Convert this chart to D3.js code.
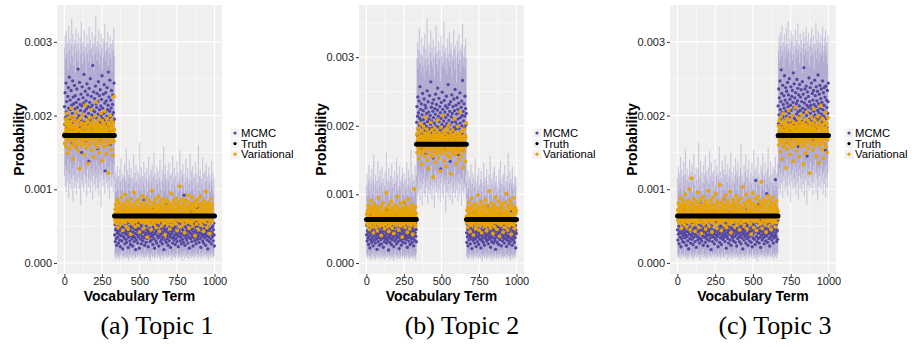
<!DOCTYPE html>
<html><head><meta charset="utf-8">
<script src="https://cdn.jsdelivr.net/npm/d3@7"></script>
<style>body{margin:0;background:#fff}svg{display:block}</style>
</head><body><svg id="c" width="914" height="347"></svg>
<script>
// values are stored in units of 1e-5 (probability)
const UNIT = 1e-5;
const pointTerms = d3.range(1, 1001, 2);   // vocabulary terms shown as points
const ciTerms = d3.range(1, 1001, 4);      // vocabulary terms shown with interval lines
const xTicks = [0, 250, 500, 750, 1000];
const xMinor = [125, 375, 625, 875];
const yTicks = [0, 0.001, 0.002, 0.003];
const yMinor = [0.0005, 0.0015, 0.0025, 0.0035];
const seriesNames = ["MCMC", "Truth", "Variational"];
const captions = ["(a) Topic 1", "(b) Topic 2", "(c) Topic 3"];
const truthHigh = 0.00173, truthLow = 0.000636;
const topic1Truth = [[1, 333, truthHigh], [334, 1000, truthLow]];
const topic2Truth = [[1, 333, truthLow], [334, 666, truthHigh], [667, 1000, truthLow]];
const topic3Truth = [[1, 666, truthLow], [667, 1000, truthHigh]];

const topic1Mcmc = [
212,188,231,197,176,244,205,219,183,201,167,226,193,238,210,179,252,199,186,221,
208,173,234,195,214,162,203,247,189,225,181,216,198,241,170,209,227,192,157,218,
204,236,185,211,196,263,178,222,200,190,245,171,215,207,184,229,194,150,213,239,
187,202,224,175,217,256,191,206,180,233,199,164,220,209,186,243,196,228,172,212,
203,138,237,189,218,195,250,182,210,226,177,201,214,192,268,207,183,232,198,169,
223,205,188,240,174,216,197,211,230,185,155,219,202,246,193,178,227,208,190,235,
168,213,200,222,181,254,196,210,187,229,203,176,242,194,217,125,205,231,189,220,
199,171,238,208,184,214,259,192,225,179,206,248,197,161,221,210,186,234,201,173,
215,228,191,204,180,244,195,
38,52,29,45,61,33,47,24,56,41,35,68,43,27,50,39,58,31,46,22,
54,37,44,63,30,49,41,19,57,36,48,72,34,42,26,53,40,60,32,45,
28,51,38,66,43,21,55,35,47,39,59,30,44,25,50,37,64,41,33,48,
23,56,42,36,71,29,46,52,34,40,18,58,45,31,49,38,62,27,43,54,
35,47,20,57,39,44,67,32,51,26,41,60,36,48,30,55,42,85,34,46,
24,53,38,63,40,28,50,45,33,69,37,43,22,58,41,35,52,47,29,61,
39,44,31,56,36,74,42,25,49,38,54,33,46,20,59,40,65,30,48,43,
27,52,37,45,62,34,50,23,57,41,36,70,44,29,53,39,47,32,60,26,
42,55,35,48,18,64,38,45,31,51,43,79,28,46,37,58,33,41,24,54,
40,49,30,66,36,44,21,57,39,47,34,62,42,27,52,45,35,72,31,48,
38,56,25,43,50,33,61,40,29,46,37,54,22,59,44,36,68,41,30,49,
35,53,26,47,39,63,32,45,57,28,42,92,37,50,24,55,40,34,48,60,
31,44,38,66,27,52,43,35,58,20,46,41,51,33,70,39,45,29,56,36,
47,23,62,42,34,53,38,49,30,64,44,26,57,40,35,50,32,75,43,37,
54,28,46,41,60,33,48,21,55,39,45,36,67,30,52,42,27,58,38,47,
34,63,40,24,51,44,37,56,31,49,19,61,43,35,53,29,46,72,39,42,
33,57,26,48,41,65,36,50,30,45,54,38,23];

const topic1Var = [
176,162,189,171,195,158,181,168,203,174,149,186,179,165,192,172,184,155,198,177,
167,188,173,210,160,183,170,194,178,141,187,164,175,199,169,182,157,191,176,166,
205,173,185,161,179,193,152,181,171,188,174,128,196,168,180,163,190,177,159,185,
172,201,166,183,175,147,189,170,178,214,162,186,173,156,194,180,167,184,135,176,
191,169,182,160,197,174,187,163,179,208,171,153,185,176,166,192,181,144,173,188,
168,199,177,161,183,170,218,186,174,157,190,179,165,182,172,195,150,178,187,169,
184,162,203,175,180,139,193,171,186,166,177,158,189,173,206,181,164,185,176,148,
196,170,183,160,179,191,174,122,188,167,182,175,200,163,186,172,154,194,178,169,
185,146,190,177,165,226,181,
66,58,73,61,79,54,68,63,85,59,70,48,75,64,57,82,67,60,72,52,
77,65,62,89,56,71,63,44,80,69,58,74,61,66,93,55,78,64,50,70,
62,84,59,67,73,46,76,63,57,81,68,60,71,39,65,87,58,74,62,69,
53,79,66,61,96,56,72,64,49,77,60,68,83,57,70,63,51,75,65,59,
86,62,73,42,67,80,58,71,64,55,78,61,69,91,56,74,63,47,82,66,
60,72,54,76,65,58,88,62,70,35,79,64,57,73,67,52,84,61,68,59,
75,45,71,63,98,56,77,66,60,81,64,53,72,69,58,86,62,74,48,67,
79,57,65,70,61,90,55,73,64,43,78,68,59,83,63,71,50,76,66,58,
87,62,69,54,74,60,80,65,38,72,63,57,85,67,61,77,52,70,64,59,
82,56,75,68,46,79,62,66,94,58,71,63,51,76,65,60,84,57,73,69,
55,80,64,61,88,53,72,67,44,78,62,70,59,83,66,58,75,104,63,68,
49,77,61,65,86,56,74,69,52,81,60,67,73,41,79,64,58,85,62,71,
55,76,66,59,92,57,70,63,47,82,68,61,74,54,78,65,60,89,56,72,
64,50,80,67,58,75,62,69,37,83,61,66,77,53,71,63,86,59,68,45,
79,64,57,73,60,90,55,74,66,51,81,62,70,58,76,65,43,84,61,68,
56,78,63,72,97,59,69,48,80,64,60,75,53,82,67,62,71,40,77,65,
58,87,61,73,55,79,66];

const topic1CiLow = [
118,104,132,96,125,110,141,88,121,107,136,99,115,128,84,119,133,102,112,145,
93,126,109,138,116,100,123,79,130,113,105,140,97,120,131,108,117,90,127,134,
103,114,143,95,122,111,129,86,118,137,106,124,98,115,139,101,121,92,133,110,
126,76,119,135,104,113,128,94,142,117,108,123,99,131,112,87,125,138,103,116,
120,97,134,109,
8,12,5,10,15,7,9,4,13,11,6,18,9,14,5,10,8,21,7,12,
6,9,16,4,11,8,13,7,19,10,5,12,9,15,6,8,24,11,7,13,
10,4,17,9,12,6,14,8,11,5,20,9,7,13,10,16,6,12,8,3,
15,11,9,7,18,10,5,13,8,22,12,6,9,14,7,11,4,16,10,8,
12,5,19,9,13,7,10,15,6,11,8,25,9,12,4,14,10,7,17,8,
11,6,13,9,20,5,12,10,7,15,8,11,3,16,9,13,6,18,10,8,
12,7,14,5,11,21,9,6,13,10,8,15,4,12,9,17,7,11,14,6,
10,19,8,12,5,13,9,16,7,11,23,10,6,14,8,12,4,15,9,11,
7,18,10,13,6,9];

const topic1CiHigh = [
292,308,276,315,284,299,262,321,288,304,271,296,331,280,310,267,294,302,258,318,
286,298,274,312,290,264,306,283,327,295,270,300,287,316,278,293,255,309,285,297,
272,320,289,303,266,291,313,281,298,260,307,284,335,294,275,301,288,317,269,296,
282,311,291,263,305,279,299,324,286,273,300,290,314,268,293,284,308,277,297,261,
302,289,319,281,
108,124,96,115,132,101,118,89,127,110,142,99,113,121,86,117,135,104,112,155,
94,126,107,119,139,98,114,129,91,116,103,147,109,122,97,133,111,88,125,106,
120,163,100,115,130,93,118,108,137,102,123,84,114,128,96,111,144,105,119,92,
126,110,134,99,117,150,103,121,90,113,131,107,124,95,116,140,101,112,87,127,
109,158,98,120,133,104,115,93,125,111,136,100,118,82,122,106,145,97,114,129,
103,119,91,138,108,123,96,112,152,102,126,89,117,134,105,121,94,110,141,99,
116,128,86,113,107,148,97,124,111,132,101,119,92,115,137,104,122,88,109,160,
98,118,127,95,114,106,143,100,121,90,125,111,135,103,117,85,130,108,120,96,
112,139,102,123,93,116];

const topic2Mcmc = [
41,55,32,47,63,36,44,27,58,39,50,22,46,69,34,42,53,30,48,61,
37,45,25,56,40,33,66,43,51,29,47,38,59,35,44,20,54,41,72,31,
49,37,57,26,43,62,39,46,34,52,28,45,64,36,50,42,23,55,38,47,
31,60,40,35,53,44,77,29,48,37,56,33,42,19,51,46,39,65,30,45,
36,58,41,27,49,54,34,43,62,38,47,24,57,40,32,52,45,70,35,43,
28,55,39,48,60,31,46,37,53,21,44,41,67,33,50,38,26,56,42,47,
35,63,30,45,52,40,88,36,49,29,54,43,34,59,39,46,23,51,44,37,
64,32,48,41,57,27,45,38,53,35,71,42,30,50,46,36,61,25,47,40,
55,33,44,58,39,49,31,
205,228,186,214,242,195,219,173,236,201,211,257,190,224,182,208,232,167,216,198,
247,187,222,209,176,239,203,193,230,213,160,226,199,218,184,251,206,192,235,171,
220,210,196,244,181,215,202,264,189,227,207,178,233,197,221,153,212,238,194,204,
225,185,217,246,200,169,231,209,191,223,255,183,214,198,240,206,175,228,193,219,
137,211,234,188,202,249,196,224,180,215,207,166,237,199,220,190,229,212,185,243,
203,172,226,197,216,260,189,208,231,179,221,201,148,235,194,213,186,245,205,218,
192,228,174,210,239,198,222,183,253,206,195,230,168,217,202,241,187,224,210,158,
233,196,219,181,248,204,212,191,227,176,236,200,215,266,188,221,207,163,232,197,
214,243,185,225,201,218,
44,30,57,38,49,25,53,41,66,34,46,39,59,28,51,43,36,62,21,48,
40,55,33,45,74,37,50,29,42,58,35,47,24,54,39,44,65,31,52,38,
46,27,57,41,35,61,43,49,22,56,40,33,68,45,37,53,30,48,42,59,
26,50,44,36,63,39,47,32,55,41,83,34,46,28,52,43,38,60,35,49,
23,57,40,45,31,54,37,66,42,48,29,51,44,36,58,33,47,20,55,41,
39,63,30,46,53,37,43,27,59,40,49,34,71,45,38,52,25,56,42,47,
32,61,39,44,36,54,29,50,43,67,35,48,41,24,57,38,46,33,62,40,
52,28,45,37,56,31,49,76,42,35,53,44,26,58,39,47,34,64,41,30,
51,45,37,55,22,48,43];

const topic2Var = [
63,71,57,76,60,68,84,55,72,65,49,79,62,67,91,58,74,64,53,81,
66,60,70,44,77,63,86,57,69,61,75,52,82,65,59,73,47,78,64,68,
95,56,71,62,80,54,67,60,74,40,83,66,58,72,63,88,55,69,61,76,
50,79,65,57,73,67,102,59,70,62,81,53,75,64,46,85,60,68,72,56,
78,63,66,90,58,71,51,80,65,61,74,43,77,69,57,84,62,67,73,55,
82,64,59,97,68,60,75,48,79,66,63,71,54,87,61,70,58,76,65,38,
81,62,69,74,56,89,64,60,72,52,78,67,59,83,63,70,45,76,66,61,
93,57,73,64,50,80,68,62,75,55,85,60,71,65,42,79,63,69,108,58,
74,61,67,82,54,72,66,
174,188,161,179,196,168,183,152,176,191,165,181,171,203,159,186,175,144,193,170,
182,163,178,199,167,185,173,156,189,177,212,162,180,171,195,150,184,169,176,138,
190,174,166,187,158,181,172,205,164,179,170,194,155,183,176,125,188,168,180,161,
197,173,186,147,178,169,192,160,182,175,208,166,185,171,153,190,177,163,184,134,
172,198,167,180,159,187,174,215,165,179,170,193,149,183,176,162,189,173,141,181,
168,196,175,157,186,171,164,201,178,169,184,154,191,174,130,180,166,187,172,160,
194,177,163,182,170,210,167,185,158,179,173,145,190,176,165,183,171,199,161,186,
174,151,188,168,180,220,164,178,172,156,192,175,166,184,139,181,170,195,162,177,
187,169,148,183,173,204,
68,59,77,64,52,81,62,70,88,57,73,65,46,79,61,67,94,55,72,63,
84,60,69,41,76,66,58,80,64,71,50,86,62,68,75,54,78,65,99,59,
72,63,48,82,67,60,74,56,89,64,70,44,77,61,66,83,58,73,62,53,
79,69,65,92,57,71,60,47,85,63,68,76,55,80,66,61,105,58,72,64,
51,78,62,70,87,56,74,65,43,81,60,67,75,53,84,63,69,96,59,71,
64,49,79,66,61,73,57,90,62,68,39,77,65,60,82,55,72,63,86,58,
70,67,45,80,61,74,64,52,88,59,69,76,62,101,57,71,65,48,83,60,
73,66,54,78,63,91,58,68,61,42,85,64,70,56,79,62,67,95,55,74,
65,50,81,60,72,63,77];

const topic2CiLow = [
9,13,6,11,17,7,10,4,14,8,12,20,6,10,15,5,9,13,7,23,
11,8,16,5,12,9,18,6,10,14,4,11,8,21,7,13,9,15,5,12,
10,6,17,8,11,3,14,9,19,7,12,10,5,16,8,13,6,11,22,9,
7,14,10,4,12,8,18,6,11,15,9,5,13,7,20,10,8,12,6,16,
9,11,4,14,
112,98,127,105,136,91,119,108,131,84,115,124,101,139,96,118,110,128,87,122,
106,133,99,114,142,93,120,109,126,80,117,135,103,111,129,95,123,107,138,89,
116,125,100,132,94,119,113,127,74,121,104,137,97,115,130,92,118,109,134,86,
124,102,112,140,96,120,107,128,90,117,131,99,114,125,83,122,105,136,98,116,
110,129,94,
10,7,14,5,12,9,18,6,11,15,8,4,13,10,21,7,12,9,16,5,
11,8,19,6,13,10,3,14,9,12,7,17,10,5,15,8,11,24,6,13,
9,12,4,16,10,7,14,8,20,11,6,13,9,5,15,12,8,18,7,10,
14,6,11,9,22,8,13,5,12,10,16,7,9,4,14,11,8,19,6,12,
10,15,7];

const topic2CiHigh = [
112,131,97,119,143,104,125,90,116,137,101,122,158,95,114,128,87,120,108,149,
99,126,111,135,93,117,140,103,123,85,113,132,106,161,98,121,109,138,92,118,
127,102,145,110,124,88,115,134,100,119,153,105,129,94,112,141,107,120,89,126,
139,101,116,131,96,122,108,147,99,114,136,91,125,110,165,103,118,130,95,121,
106,142,112,127,
298,321,284,310,342,291,305,276,329,302,287,316,268,334,296,312,281,357,300,289,
319,273,307,338,294,313,285,326,299,270,315,303,346,290,308,279,323,297,311,265,
331,301,288,318,292,352,306,283,314,298,275,327,304,293,336,286,309,320,271,302,
295,340,312,282,317,300,262,324,307,290,333,296,311,278,319,305,348,288,301,315,
284,328,299,
118,102,135,109,126,93,121,144,105,115,131,97,124,110,152,100,119,88,128,107,
139,113,96,122,134,104,117,91,146,111,125,99,120,137,106,114,86,129,108,156,
101,123,116,94,132,110,141,98,118,127,103,112,89,136,107,121,149,100,115,125,
95,130,111,143,104,119,92,127,109,160,102,117,134,97,122,113,140,106,116,90,
128,111,124];

const topic3Mcmc = [
45,31,58,39,50,26,54,42,67,35,47,22,56,40,33,62,44,29,51,37,
60,28,46,41,73,34,49,38,55,24,43,52,36,64,30,48,42,19,57,39,
45,33,61,27,50,44,37,69,32,53,40,25,58,46,35,49,41,63,29,47,
38,54,21,43,59,36,48,31,66,42,34,52,45,27,57,39,80,33,50,44,
30,55,41,37,62,24,47,43,53,35,46,68,28,51,40,36,59,32,44,48,
23,56,38,45,65,30,49,42,34,54,39,18,58,46,37,51,29,71,43,35,
52,40,26,57,44,33,63,38,47,31,55,42,36,60,22,48,45,39,53,28,
67,41,34,50,46,25,56,37,43,62,32,49,40,87,35,44,52,29,58,38,
47,20,54,41,36,64,33,45,50,27,57,43,39,70,31,48,42,24,55,37,
46,61,34,40,53,30,49,44,76,36,51,28,56,42,38,59,23,47,45,33,
52,40,66,35,43,29,57,48,37,62,26,50,41,34,54,46,19,58,39,44,
31,63,42,36,49,55,27,45,38,72,33,51,40,24,56,47,35,60,30,43,
53,41,37,66,28,48,44,22,57,39,34,52,46,64,32,50,42,25,55,112,
45,36,61,29,47,41,79,33,53,40,27,58,44,35,49,21,56,43,38,63,
31,46,50,34,68,39,42,26,54,47,36,59,30,45,41,94,37,52,28,48,
44,62,33,40,55,23,50,43,35,57,39,46,31,65,42,37,53,27,49,45,
34,60,38,47,113,41,36,52,29,56,44,32,58,
213,189,236,201,224,178,247,208,195,219,262,186,230,204,171,241,198,215,183,227,
210,254,193,221,176,238,206,199,233,164,217,245,190,212,228,185,203,250,197,222,
180,214,239,207,191,226,168,234,200,218,258,187,211,243,196,224,174,209,231,193,
216,202,249,182,220,237,205,158,228,199,213,242,188,207,225,179,235,201,219,192,
246,210,183,229,204,265,196,217,172,236,208,223,190,240,200,214,145,232,205,188,
226,211,251,195,219,177,238,203,214,192,244,209,185,230,198,221,166,234,206,215,
189,248,201,227,182,212,239,196,220,175,233,207,255,193,216,204,229,186,241,210,
197,223,169,236,202,218,191,247,208,180,231,199,214,238,187,225,205,153,240,196,
221,211,184,234,203,219,244];

const topic3Var = [
65,72,58,81,63,69,54,77,61,88,66,59,74,47,79,64,70,56,85,62,
68,75,52,80,60,67,93,57,73,64,49,78,66,61,84,55,71,63,100,58,
76,65,45,82,62,69,115,57,74,64,51,79,67,60,87,56,72,63,43,77,
66,59,83,54,71,65,96,58,75,62,48,80,68,61,73,55,86,64,69,40,
78,63,57,74,66,90,60,70,53,81,65,62,76,46,84,59,68,72,56,79,
64,98,61,67,50,77,63,71,58,85,66,55,74,62,42,80,69,60,89,57,
73,65,52,78,63,68,94,59,71,64,47,83,61,67,75,54,81,66,58,106,
62,70,55,76,65,44,82,60,69,73,57,87,64,61,78,51,74,67,59,92,
63,71,48,80,65,58,84,62,69,53,77,66,60,97,56,72,64,41,79,63,
68,75,55,86,61,70,59,82,65,49,76,62,67,91,57,73,64,52,80,66,
60,85,58,71,63,45,78,69,61,74,54,88,65,59,72,67,103,56,75,62,
50,81,64,68,57,77,63,93,60,70,46,83,66,58,73,65,55,86,61,69,
79,53,74,64,39,82,62,67,95,58,71,65,48,80,63,60,76,56,87,64,
69,44,78,66,59,72,61,90,57,74,65,52,83,62,68,77,55,110,63,70,
47,81,66,60,75,58,86,64,69,53,79,62,67,42,84,65,59,73,56,91,
63,71,50,78,66,61,85,57,74,64,45,82,60,68,76,54,89,65,62,72,
58,80,63,49,77,67,60,84,55,73,64,61,70,
171,186,160,179,193,166,182,151,175,198,164,184,172,141,189,177,168,203,158,180,
173,192,162,185,176,129,190,169,181,155,196,174,165,187,178,207,161,183,170,147,
194,176,163,188,172,157,200,180,167,185,138,178,191,169,183,160,174,211,166,186,
175,152,189,171,180,162,197,177,168,184,144,192,173,165,187,179,158,201,170,182,
163,190,176,134,185,172,167,195,160,181,174,149,188,178,169,205,164,183,171,156,
193,177,166,186,173,122,190,168,180,161,198,175,170,184,153,189,176,164,209,172,
181,159,194,174,167,187,145,179,171,185,163,199,177,168,183,136,191,173,160,186,
175,213,166,182,170,154,196,178,165,188,142,180,174,162,192,176,169,204,158,184,
171,189,150,179,167,197,173];

const topic3CiLow = [
9,6,13,8,11,17,5,10,14,7,12,9,21,6,11,8,15,4,10,13,
7,18,9,12,6,11,5,16,8,10,14,7,23,9,12,6,13,10,4,15,
8,11,19,7,12,9,6,14,10,5,17,8,11,13,7,9,20,6,12,10,
15,8,3,11,14,7,9,18,6,12,10,5,13,8,16,11,7,9,22,6,
12,10,14,4,11,8,17,7,13,9,5,15,10,12,6,19,8,11,14,7,
9,24,6,12,10,4,13,8,16,11,7,9,15,5,12,10,20,6,13,8,
11,14,7,9,17,5,12,10,6,15,8,11,3,13,9,18,7,12,10,14,
6,11,21,8,9,13,5,16,10,7,12,9,15,6,11,19,8,10,4,14,
12,7,9,17,6,11,13,
116,101,129,94,122,108,137,88,119,112,132,97,125,104,141,91,117,128,106,134,
82,120,110,126,99,139,114,103,131,93,123,109,136,86,118,127,100,115,143,96,
121,107,130,90,124,113,135,79,119,105,128,98,117,138,102,126,111,92,133,108,
120,140,95,123,114,85,130,104,118,127,99,136,110,121,93,125,107,131,89,116,
134,102,122];

const topic3CiHigh = [
115,131,98,122,108,144,101,126,93,117,137,104,120,155,96,113,128,89,119,109,
140,102,124,111,134,95,118,148,106,121,92,130,112,99,127,163,103,116,138,97,
123,110,87,133,107,119,145,100,125,114,94,129,108,152,101,117,136,91,122,111,
126,98,141,105,118,132,96,120,113,158,103,124,88,115,139,107,127,99,119,146,
102,121,110,134,93,117,128,105,150,98,123,112,86,131,108,119,142,100,125,114,
137,95,118,106,129,161,103,120,111,90,133,109,124,147,97,116,127,104,139,112,
92,122,108,135,101,118,154,99,126,113,130,94,117,143,106,121,110,89,132,104,
125,149,100,119,114,136,96,123,107,128,157,102,117,111,138,93,120,109,131,105,
126,98,144,115,121,103,134,
289,306,274,313,295,281,322,287,300,266,310,293,278,318,297,284,328,291,269,304,
286,315,299,275,309,283,294,261,317,290,302,279,325,288,296,271,311,285,303,292,
257,314,298,282,307,290,320,276,301,287,312,268,295,305,280,319,293,284,308,263,
297,289,326,277,303,291,314,272,300,286,310,281,296,321,288,274,306,294,316,283,
299,270,309];

const topics = [
  {mcmc: topic1Mcmc, vari: topic1Var, lo: topic1CiLow, hi: topic1CiHigh, truth: topic1Truth},
  {mcmc: topic2Mcmc, vari: topic2Var, lo: topic2CiLow, hi: topic2CiHigh, truth: topic2Truth},
  {mcmc: topic3Mcmc, vari: topic3Var, lo: topic3CiLow, hi: topic3CiHigh, truth: topic3Truth}
];

// layout (pixel positions, styles)
const layout = [
  {left: 57, right: 222, top: 5, bottom: 274, yDom: [-0.00015, 0.0035], cap: 157},
  {left: 359, right: 524, top: 5, bottom: 274, yDom: [-0.00016, 0.00376], cap: 462},
  {left: 670, right: 836, top: 5, bottom: 274, yDom: [-0.00015, 0.0035], cap: 775}
];
const COL_MCMC = "#55479d", COL_VAR = "#eaa400", COL_TRUTH = "#000000";
const legendColors = [COL_MCMC, COL_TRUTH, COL_VAR];
const SANS = "'Liberation Sans', Arial, Helvetica, sans-serif";

const svg = d3.select("#c");
svg.append("rect").attr("width", 914).attr("height", 347).attr("fill", "#fff");

topics.forEach((tp, k) => {
  const L = layout[k];
  const g = svg.append("g");
  const x = d3.scaleLinear().domain([-49, 1050]).range([L.left, L.right]);
  const y = d3.scaleLinear().domain(L.yDom).range([L.bottom, L.top]);
  const clipId = "clip" + k;
  svg.append("defs").append("clipPath").attr("id", clipId)
    .append("rect").attr("x", L.left).attr("y", L.top)
    .attr("width", L.right - L.left).attr("height", L.bottom - L.top);

  g.append("rect").attr("x", L.left).attr("y", L.top)
    .attr("width", L.right - L.left).attr("height", L.bottom - L.top)
    .attr("fill", "#f0efee");

  const pg = g.append("g").attr("clip-path", `url(#${clipId})`);
  // grid
  pg.selectAll(".xm").data(xMinor).join("line")
    .attr("x1", d => x(d)).attr("x2", d => x(d)).attr("y1", L.top).attr("y2", L.bottom)
    .attr("stroke", "#fff").attr("stroke-width", 0.6);
  pg.selectAll(".ym").data(yMinor.filter(v => v < L.yDom[1])).join("line")
    .attr("y1", d => y(d)).attr("y2", d => y(d)).attr("x1", L.left).attr("x2", L.right)
    .attr("stroke", "#fff").attr("stroke-width", 0.6);
  pg.selectAll(".xM").data(xTicks).join("line")
    .attr("x1", d => x(d)).attr("x2", d => x(d)).attr("y1", L.top).attr("y2", L.bottom)
    .attr("stroke", "#fff").attr("stroke-width", 1.2);
  pg.selectAll(".yM").data(yTicks).join("line")
    .attr("y1", d => y(d)).attr("y2", d => y(d)).attr("x1", L.left).attr("x2", L.right)
    .attr("stroke", "#fff").attr("stroke-width", 1.2);

  // credible interval lines
  pg.append("g").selectAll("line").data(ciTerms).join("line")
    .attr("x1", d => x(d)).attr("x2", d => x(d))
    .attr("y1", (d, i) => y(tp.lo[i] * UNIT)).attr("y2", (d, i) => y(tp.hi[i] * UNIT))
    .attr("stroke", "#6e62b4").attr("stroke-opacity", 0.28).attr("stroke-width", 1.2);

  // MCMC points
  pg.append("g").selectAll("circle").data(pointTerms).join("circle")
    .attr("cx", d => x(d)).attr("cy", (d, i) => y(tp.mcmc[i] * UNIT))
    .attr("r", 1.65).attr("fill", COL_MCMC);
  // Variational points
  pg.append("g").selectAll("circle").data(pointTerms).join("circle")
    .attr("cx", d => x(d)).attr("cy", (d, i) => y(tp.vari[i] * UNIT))
    .attr("r", 1.95).attr("fill", COL_VAR);
  // Truth
  pg.append("g").selectAll("line").data(tp.truth).join("line")
    .attr("x1", d => x(d[0])).attr("x2", d => x(d[1]))
    .attr("y1", d => y(d[2])).attr("y2", d => y(d[2]))
    .attr("stroke", COL_TRUTH).attr("stroke-width", 5).attr("stroke-linecap", "round");

  // axes
  const ay = g.append("g").attr("transform", `translate(${L.left},0)`)
    .call(d3.axisLeft(y).tickValues(yTicks).tickFormat(d3.format(".3f")).tickSize(3).tickPadding(2));
  const ax = g.append("g").attr("transform", `translate(0,${L.bottom})`)
    .call(d3.axisBottom(x).tickValues(xTicks).tickFormat(d3.format("d")).tickSize(3).tickPadding(0.6));
  [ax, ay].forEach(a => {
    a.select(".domain").remove();
    a.selectAll(".tick line").attr("stroke", "#333");
    a.selectAll(".tick text").attr("fill", "#222").style("font-family", SANS).style("font-size", "11px");
  });

  g.append("text").attr("transform", `translate(${L.left - 38},${(L.top + L.bottom) / 2}) rotate(-90)`)
    .attr("text-anchor", "middle").attr("dy", "0.35em")
    .style("font-family", SANS).style("font-weight", "bold").style("font-size", "14px")
    .attr("fill", "#000").text("Probability");
  g.append("text").attr("x", (L.left + L.right) / 2).attr("y", 301)
    .attr("text-anchor", "middle")
    .style("font-family", SANS).style("font-weight", "bold").style("font-size", "14px")
    .attr("fill", "#000").text("Vocabulary Term");

  // legend
  const lg = g.append("g");
  seriesNames.forEach((nm, j) => {
    const cy = 133 + j * 10.6;
    const kx = L.right + 13;
    lg.append("rect").attr("x", kx - 4.5).attr("y", cy - 4.5).attr("width", 9).attr("height", 9)
      .attr("fill", "#f2f2f2");
    lg.append("circle").attr("cx", kx).attr("cy", cy).attr("r", 1.6).attr("fill", legendColors[j]);
    lg.append("text").attr("x", kx + 6).attr("y", cy + 4)
      .style("font-family", SANS).style("font-size", "11.3px").attr("fill", "#000").text(nm);
  });

  // caption
  svg.append("text").attr("x", L.cap).attr("y", 334).attr("text-anchor", "middle")
    .style("font-family", "'Liberation Serif', 'Times New Roman', serif").style("font-size", "26px")
    .attr("fill", "#000").text(captions[k]);
});
</script>
</body></html>
